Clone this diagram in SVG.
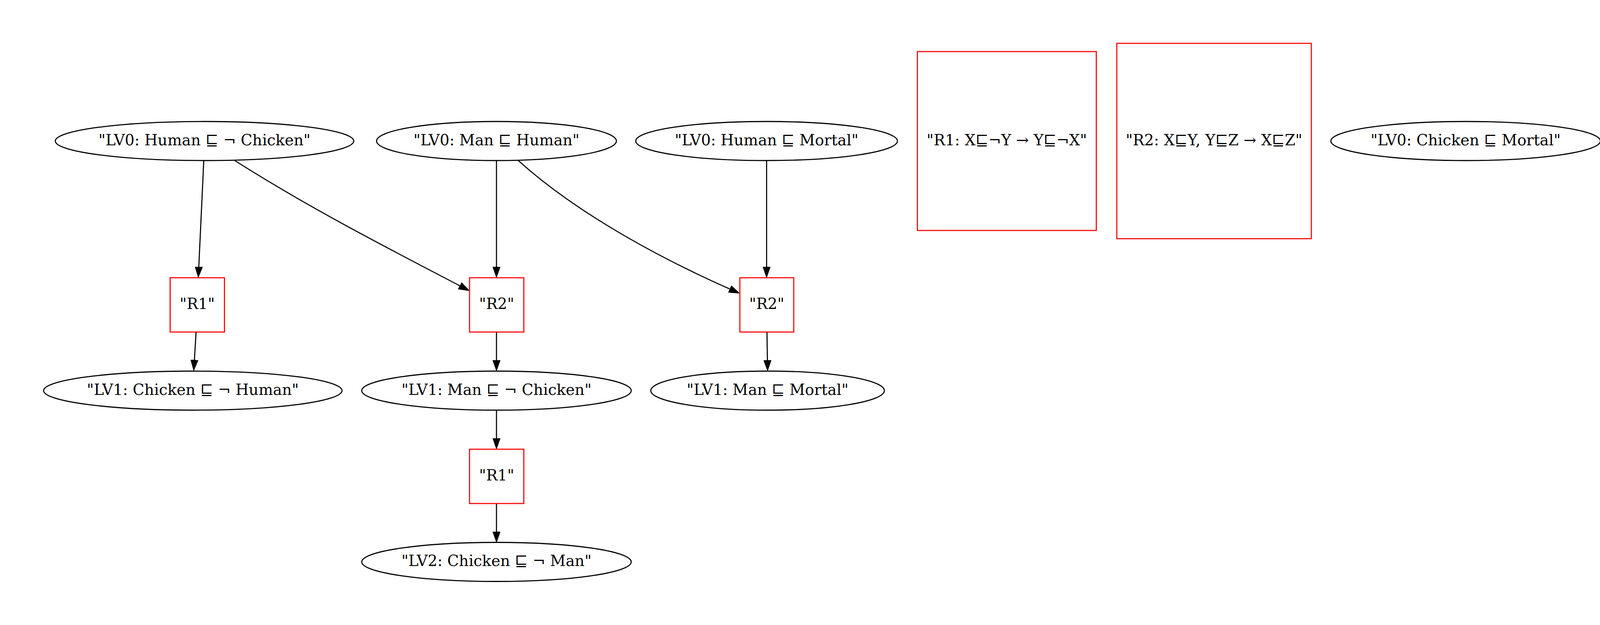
<svg xmlns="http://www.w3.org/2000/svg" width="4209" height="1600" viewBox="0 0 4209 1600">
<style>
.lv { fill: #ffffff; stroke: #000000; stroke-width: 2.78; }
.rule { fill: #ffffff; stroke: #ff0000; stroke-width: 2.78; }
.edge { fill: none; stroke: #000000; stroke-width: 2.78; marker-end: url(#arrow); }
text { font-family: "DejaVu Serif", "Liberation Serif", serif; font-size: 38.9px; fill: #000000; text-anchor: middle; }
</style>
<defs>
<marker id="arrow" markerUnits="userSpaceOnUse" viewBox="0 -10 29 20" refX="0" refY="0" markerWidth="29" markerHeight="20" orient="auto">
<path d="M0,-9.7 L27.8,0 L0,9.7 z" fill="#000000" stroke="#000000" stroke-width="1"/>
</marker>
</defs>
<rect x="0" y="0" width="4209" height="1600" fill="#ffffff"/>
<g id="edges">
<path class="edge" d="M521.7,410.7 L508.9,683"/>
<path class="edge" d="M600.4,410.7 C790,531 986,632 1177,731.5"/>
<path class="edge" d="M1271,411 L1271,683"/>
<path class="edge" d="M1326.5,410.7 C1476.5,545.7 1687,659.7 1868,739.7"/>
<path class="edge" d="M1962.5,411 L1962.5,683"/>
<path class="edge" d="M502,850.7 L497.7,921.3"/>
<path class="edge" d="M1271,850 L1271,922"/>
<path class="edge" d="M1963.4,850 L1964.6,922"/>
<path class="edge" d="M1271,1050 L1271,1122"/>
<path class="edge" d="M1271,1289 L1271,1361"/>
</g>
<g id="n1"><ellipse class="lv" cx="523.6" cy="361" rx="382" ry="50"/><text x="523.6" y="371.5">"LV0: Human ⊑ ¬ Chicken"</text></g>
<g id="n2"><ellipse class="lv" cx="1271" cy="361" rx="307" ry="50"/><text x="1271" y="371.5">"LV0: Man ⊑ Human"</text></g>
<g id="n3"><ellipse class="lv" cx="1962.5" cy="361" rx="335" ry="50"/><text x="1962.5" y="371.5">"LV0: Human ⊑ Mortal"</text></g>
<g id="n4"><rect class="rule" x="2348.5" y="132" width="458" height="458"/><text x="2577.5" y="371.5">"R1: X⊑¬Y → Y⊑¬X"</text></g>
<g id="n5"><rect class="rule" x="2859" y="111" width="498" height="500"/><text x="3108" y="371.5">"R2: X⊑Y, Y⊑Z → X⊑Z"</text></g>
<g id="n6"><ellipse class="lv" cx="3752" cy="361" rx="345" ry="50"/><text x="3752" y="371.5">"LV0: Chicken ⊑ Mortal"</text></g>
<g id="n7"><rect class="rule" x="435.6" y="711" width="139" height="139"/><text x="505" y="791">"R1"</text></g>
<g id="n8"><rect class="rule" x="1202" y="711" width="139" height="139"/><text x="1271.5" y="791">"R2"</text></g>
<g id="n9"><rect class="rule" x="1894" y="711" width="138" height="139"/><text x="1963" y="791">"R2"</text></g>
<g id="n10"><ellipse class="lv" cx="493.6" cy="1000" rx="382" ry="50"/><text x="493.6" y="1010.5">"LV1: Chicken ⊑ ¬ Human"</text></g>
<g id="n11"><ellipse class="lv" cx="1271" cy="1000" rx="345" ry="50"/><text x="1271" y="1010.5">"LV1: Man ⊑ ¬ Chicken"</text></g>
<g id="n12"><ellipse class="lv" cx="1965" cy="1000" rx="299" ry="50"/><text x="1965" y="1010.5">"LV1: Man ⊑ Mortal"</text></g>
<g id="n13"><rect class="rule" x="1202" y="1150" width="139" height="139"/><text x="1271.5" y="1230">"R1"</text></g>
<g id="n14"><ellipse class="lv" cx="1271" cy="1438.5" rx="345" ry="50"/><text x="1271" y="1449">"LV2: Chicken ⊑ ¬ Man"</text></g>
</svg>
